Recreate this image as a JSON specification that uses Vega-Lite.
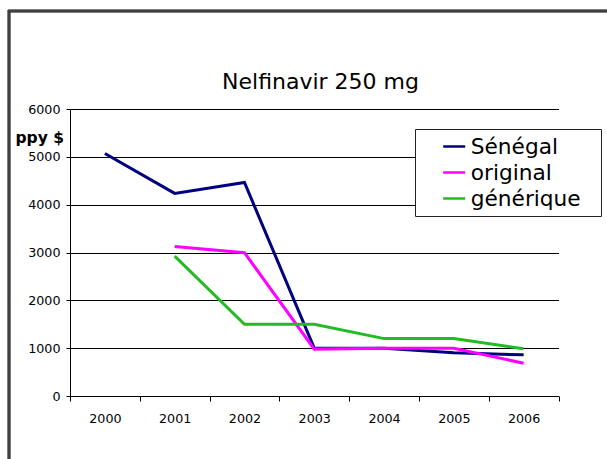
{
  "$schema": "https://vega.github.io/schema/vega-lite/v6.json",
  "width": 488.5,
  "height": 287,
  "autosize": {"type": "none"},
  "padding": {"left": 70, "top": 109, "right": 48.5, "bottom": 63},
  "background": "white",
  "config": {"view": {"stroke": null}, "legend": {"strokeWidth": 1}},
  "title": {"text": "Nelfinavir 250 mg", "fontSize": 22, "font": "DejaVu Sans", "fontWeight": "normal", "color": "#000", "anchor": "middle", "frame": "group", "baseline": "alphabetic", "offset": -101.8, "dx": 6.25},
  "data": {"values": [
    {"year": "2000", "series": "Sénégal", "ppy": 5070},
    {"year": "2001", "series": "Sénégal", "ppy": 4235},
    {"year": "2002", "series": "Sénégal", "ppy": 4465},
    {"year": "2003", "series": "Sénégal", "ppy": 1000},
    {"year": "2004", "series": "Sénégal", "ppy": 1000},
    {"year": "2005", "series": "Sénégal", "ppy": 905},
    {"year": "2006", "series": "Sénégal", "ppy": 860},
    {"year": "2001", "series": "original", "ppy": 3125},
    {"year": "2002", "series": "original", "ppy": 2995},
    {"year": "2003", "series": "original", "ppy": 980},
    {"year": "2004", "series": "original", "ppy": 1000},
    {"year": "2005", "series": "original", "ppy": 1000},
    {"year": "2006", "series": "original", "ppy": 685},
    {"year": "2001", "series": "générique", "ppy": 2925},
    {"year": "2002", "series": "générique", "ppy": 1500},
    {"year": "2003", "series": "générique", "ppy": 1500},
    {"year": "2004", "series": "générique", "ppy": 1200},
    {"year": "2005", "series": "générique", "ppy": 1200},
    {"year": "2006", "series": "générique", "ppy": 990}
  ]},
  "layer": [
    {
      "mark": {"type": "line", "strokeWidth": 3},
      "encoding": {
        "x": {"field": "year", "type": "ordinal", "bandPosition": 0.5,
          "scale": {"type": "band", "paddingInner": 0, "paddingOuter": 0},
          "axis": {"title": null, "tickBand": "extent", "labelAngle": 0, "tickSize": 5, "tickColor": "#000", "domainColor": "#000", "labelFont": "DejaVu Sans", "labelFontSize": 12.7, "labelColor": "#000", "labelPadding": 11.5, "grid": false}},
        "y": {"field": "ppy", "type": "quantitative",
          "scale": {"domain": [0, 6000], "nice": false},
          "axis": {"values": [0, 1000, 2000, 3000, 4000, 5000, 6000], "format": "d", "grid": true, "gridColor": "#000", "gridWidth": 1, "domainColor": "#000", "tickColor": "#000", "tickSize": 4, "labelFont": "DejaVu Sans", "labelFontSize": 12.7, "labelColor": "#000", "labelPadding": 6, "title": "ppy $", "titleAngle": 0, "titleFont": "DejaVu Sans", "titleFontSize": 15.5, "titleFontWeight": "bold", "titleColor": "#000", "titleX": -55, "titleY": 33.7, "titleAlign": "left", "titleBaseline": "alphabetic"}},
        "color": {"field": "series", "type": "nominal",
          "scale": {"domain": ["Sénégal", "original", "générique"], "range": ["#000080", "#ff00ff", "#22bb22"]},
          "legend": {"title": "\u00a0", "titleOrient": "right", "titlePadding": 14.4, "titleFontSize": 21.7, "orient": "none", "legendX": 345, "legendY": 20, "padding": 5, "strokeColor": "#222", "fillColor": "#fff", "symbolType": "stroke", "symbolSize": 484, "symbolStrokeWidth": 2.5, "symbolOffset": 21.7, "labelOffset": 4, "labelFontSize": 21.7, "labelFont": "DejaVu Sans", "labelColor": "#000", "rowPadding": 1, "labelLimit": 300}
        }
      }
    },
    {
      "mark": {"type": "point", "opacity": 0},
      "encoding": {
        "x": {"field": "year", "type": "ordinal", "bandPosition": 0.5},
        "y": {"field": "ppy", "type": "quantitative"},
        "shape": {"field": "series", "type": "nominal", "scale": {"domain": ["cadre1"]},
          "legend": {"title": null, "orient": "none", "legendX": -62.5, "legendY": -99.5, "padding": 330, "strokeColor": "#000", "symbolOpacity": 0, "labelOpacity": 0, "labelExpr": "''", "values": ["cadre1"]}
        },
        "strokeDash": {"field": "series", "type": "nominal", "scale": {"domain": ["cadre2"]},
          "legend": {"title": null, "orient": "none", "legendX": -61.5, "legendY": -98.5, "padding": 330, "strokeColor": "#000", "symbolOpacity": 0, "labelOpacity": 0, "labelExpr": "''", "values": ["cadre2"]}
        },
        "fill": {"field": "series", "type": "nominal", "scale": {"domain": ["cadre3"], "range": ["#000"]},
          "legend": {"title": null, "orient": "none", "legendX": -60.5, "legendY": -97.5, "padding": 330, "strokeColor": "#000", "symbolOpacity": 0, "labelOpacity": 0, "labelExpr": "''", "values": ["cadre3"]}
        }
      }
    }
  ]
}
